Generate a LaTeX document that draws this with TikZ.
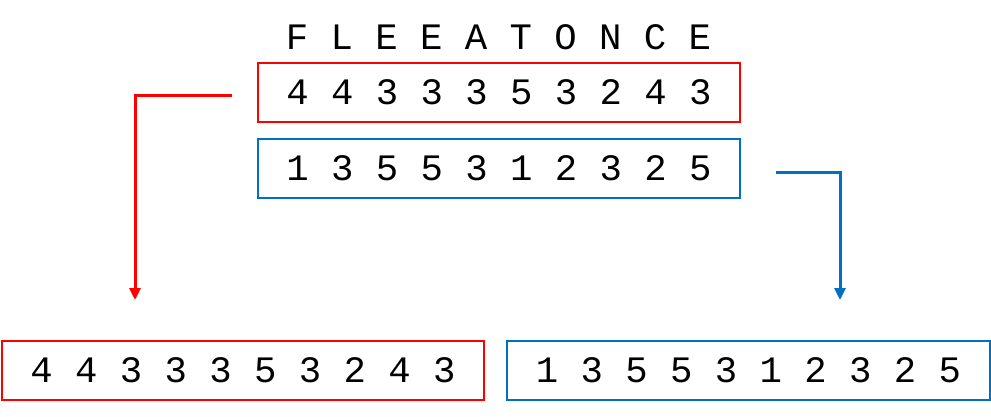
\documentclass[tikz,border=0pt]{standalone}
\usepackage{fontspec}
\setmonofont{Liberation Mono}
\usetikzlibrary{arrows.meta}
\definecolor{myred}{RGB}{255,0,0}
\definecolor{myblue}{RGB}{0,112,192}
\tikzset{
  seqtext/.style={font=\ttfamily\fontsize{37.3}{40}\selectfont, inner sep=0pt},
  seqbox/.style={seqtext, draw, line width=2pt, minimum width=482pt, minimum height=59pt},
  conn/.style={line width=3pt, -{Triangle[width=11pt,length=12pt]}}
}
\begin{document}
\begin{tikzpicture}[x=1pt,y=-1pt]
\useasboundingbox (0,0) rectangle (991,417);
\node[seqtext] (letters) at (498.5,37) {F L E E A T O N C E};
\node[seqbox, draw=myred] (r1) at (499,92.5) {4 4 3 3 3 5 3 2 4 3};
\node[seqbox, draw=myblue] (b1) at (499,168.5) {1 3 5 5 3 1 2 3 2 5};
\node[seqbox, draw=myred] (r2) at (243,370.5) {4 4 3 3 3 5 3 2 4 3};
\node[seqbox, draw=myblue, minimum width=483pt] (b2) at (748.5,370.5) {1 3 5 5 3 1 2 3 2 5};
\coordinate (rs) at (232,95.5);
\coordinate (re) at (135,300);
\coordinate (bs) at (776,173);
\coordinate (be) at (840,300);
\draw[conn, draw=myred] (rs) -| (re);
\draw[conn, draw=myblue] (bs) -| (be);
\end{tikzpicture}
\end{document}
